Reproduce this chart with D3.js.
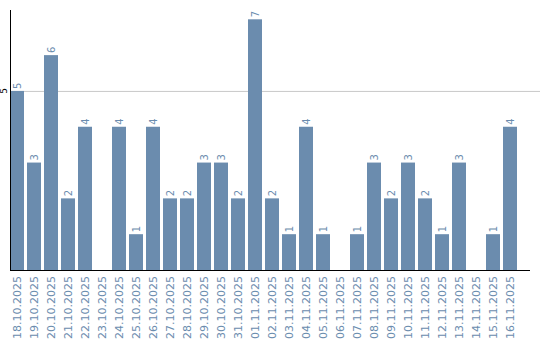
<!DOCTYPE html>
<html>
<head>
<meta charset="utf-8">
<script src="https://cdn.jsdelivr.net/npm/d3@7"></script>
<style>
  body { margin: 0; background: #fff; }
  text { font-family: "DejaVu Sans", sans-serif; }
</style>
</head>
<body>
<svg id="chart" width="540" height="340"></svg>
<script>
// dates and counts
let days = ['18.10.2025', '19.10.2025', '20.10.2025', '21.10.2025', '22.10.2025', '23.10.2025',
    '24.10.2025', '25.10.2025', '26.10.2025', '27.10.2025', '28.10.2025', '29.10.2025',
    '30.10.2025', '31.10.2025', '01.11.2025', '02.11.2025', '03.11.2025', '04.11.2025',
    '05.11.2025', '06.11.2025', '07.11.2025', '08.11.2025', '09.11.2025', '10.11.2025',
    '11.11.2025', '12.11.2025', '13.11.2025', '14.11.2025', '15.11.2025', '16.11.2025'];
let counts = [5, 3, 6, 2, 4, 0, 4, 1, 4, 2, 2, 3, 3, 2, 7, 2, 1, 4, 1, 0, 1, 3, 2, 3, 2, 1, 3, 0, 1, 4];
let yTicks = [5];

let barColor = '#6b8cae';
let svg = d3.select('#chart');

let x = d3.scaleBand()
    .domain(days)
    .range([10, 517])
    .paddingInner(3 / 17)
    .paddingOuter(0)
    .align(0);

let y = d3.scaleLinear()
    .domain([0, 7.26])
    .range([270, 10]);

// grid line at 5
svg.append('g')
    .selectAll('line')
    .data(yTicks)
    .join('line')
    .attr('x1', 10)
    .attr('x2', 540)
    .attr('y1', d => y(d) + 0.5)
    .attr('y2', d => y(d) + 0.5)
    .attr('stroke', '#c8c8c8');

svg.append('g')
    .selectAll('rect')
    .data(counts)
    .join('rect')
    .attr('x', (d, i) => x(days[i]))
    .attr('y', d => y(d))
    .attr('width', x.bandwidth())
    .attr('height', d => y(0) - y(d))
    .attr('fill', barColor);

// value labels, rotated, only for non-empty days
svg.append('g')
    .selectAll('text')
    .data(counts.map((d, i) => ({ v: d, day: days[i] })).filter(d => d.v > 0))
    .join('text')
    .attr('transform', d => 'translate(' + (x(d.day) + x.bandwidth() / 2 + 4) + ',' + (y(d.v) - 2) + ') rotate(-90)')
    .attr('font-size', 10)
    .attr('fill', barColor)
    .text(d => d.v);

// y axis
svg.append('line')
    .attr('x1', 10.5).attr('x2', 10.5)
    .attr('y1', 10).attr('y2', 270)
    .attr('stroke', '#000');

svg.append('g')
    .selectAll('text')
    .data(yTicks)
    .join('text')
    .attr('transform', d => 'translate(7,' + y(d) + ') rotate(-90)')
    .attr('text-anchor', 'middle')
    .attr('font-size', 9)
    .attr('fill', '#000')
    .text(d => d);

// x axis
svg.append('line')
    .attr('x1', 10).attr('x2', 530)
    .attr('y1', 270.5).attr('y2', 270.5)
    .attr('stroke', '#000');

svg.append('g')
    .selectAll('text')
    .data(days)
    .join('text')
    .attr('transform', d => 'translate(' + (x(d) + x.bandwidth() / 2 + 4) + ',276) rotate(-90)')
    .attr('text-anchor', 'end')
    .attr('font-size', 11)
    .attr('fill', barColor)
    .text(d => d);
</script>
</body>
</html>
